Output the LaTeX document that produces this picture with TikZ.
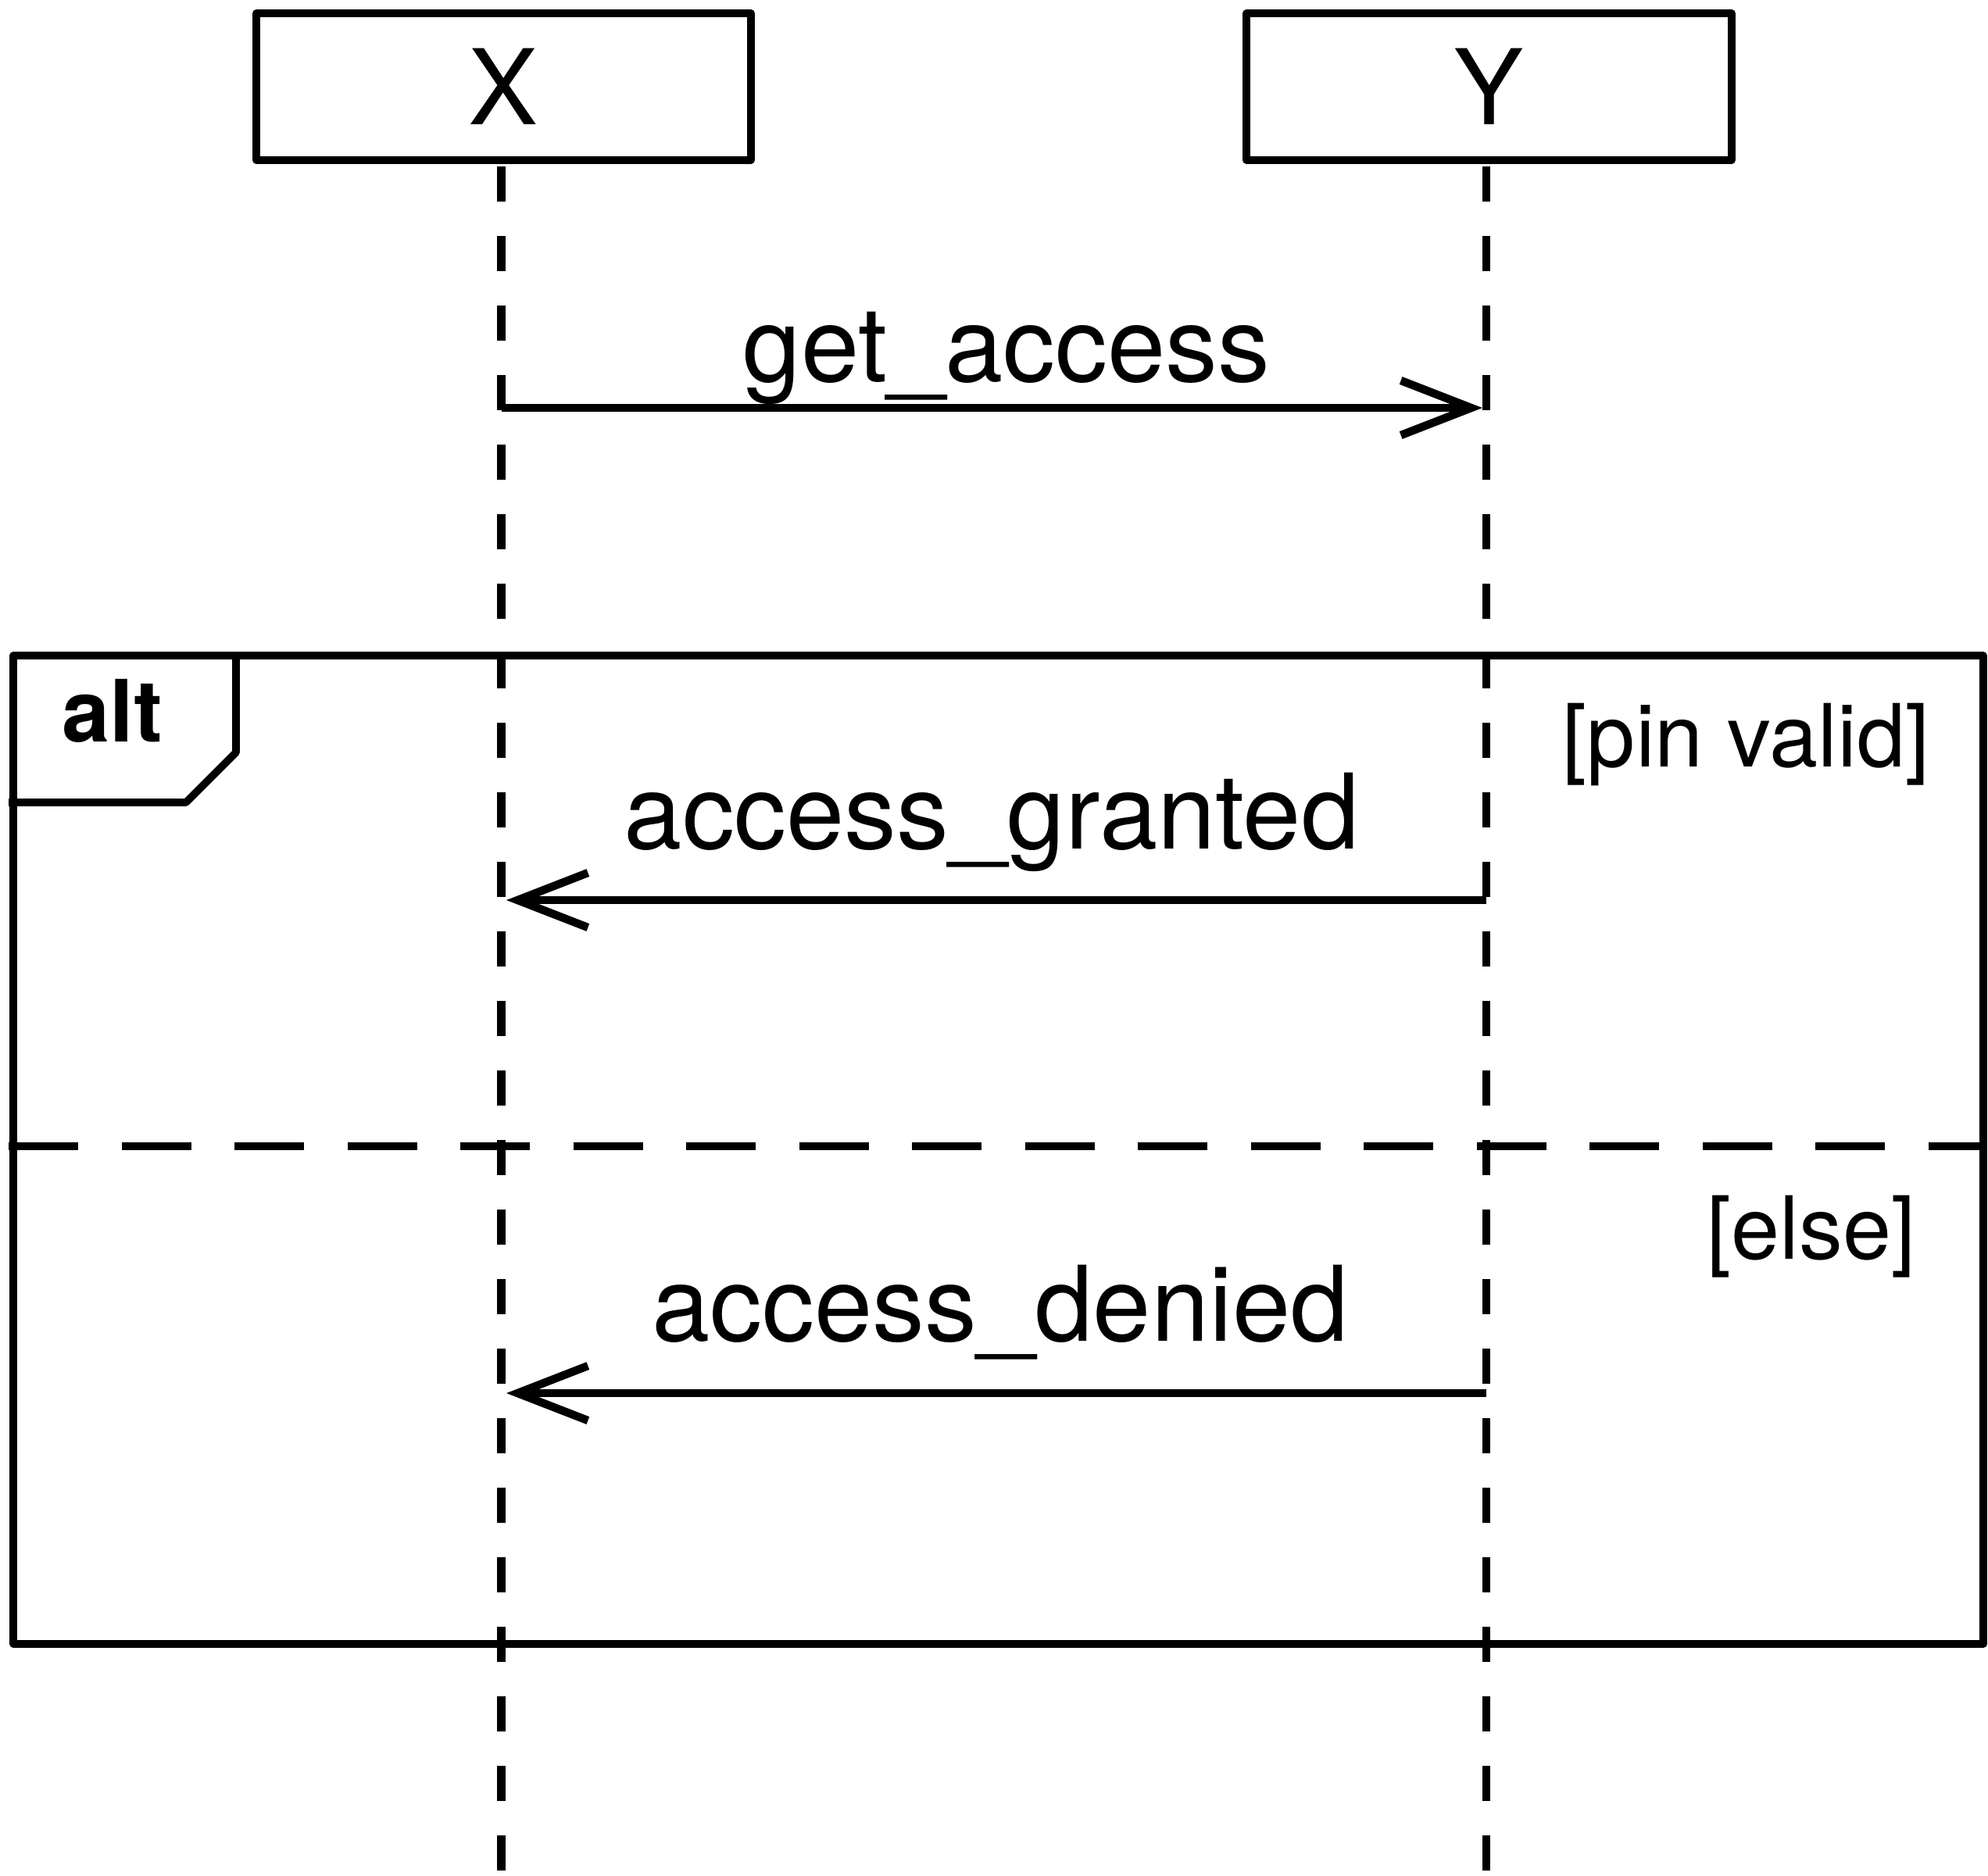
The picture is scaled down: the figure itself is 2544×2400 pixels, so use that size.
\documentclass[tikz,border=0pt]{standalone}
\usepackage{fontspec}
\setmainfont{TeX Gyre Heros}
\usetikzlibrary{arrows.meta}
\tikzset{
  objbox/.style={draw, line width=2.4pt, line join=round, inner sep=0pt,
    minimum height=47pt, font=\fontsize{33.4}{40}\selectfont},
  lifeline/.style={line width=2.6pt, dash pattern=on 11.125pt off 11.125pt},
  msg/.style={line width=2.6pt, -{Straight Barb[length=22.5pt,width=17.5pt,sharp]}},
  msglabel/.style={anchor=base, inner sep=0pt, font=\fontsize{33.4}{40}\selectfont},
  guard/.style={anchor=base, inner sep=0pt, font=\fontsize{27.9}{33}\selectfont},
  framebox/.style={line width=2.4pt, line join=round},
  sepline/.style={line width=2.4pt, dash pattern=on 22.25pt off 13.875pt},
}
\begin{document}
\begin{tikzpicture}[x=0.25pt,y=-0.25pt]
\useasboundingbox (0,0) rectangle (2544,2400);
% objects
\node[objbox, minimum width=158.25pt] (X) at (644.5,111) {X};
\node[objbox, minimum width=155.25pt] (Y) at (1905.5,111) {Y};
% lifelines
\coordinate (Xtop) at (641.5,213);
\coordinate (Xbot) at (641.5,2400);
\coordinate (Ytop) at (1902,213);
\coordinate (Ybot) at (1902,2400);
\draw[lifeline] (Xtop) -- (Xbot);
\draw[lifeline] (Ytop) -- (Ybot);
% alt frame
\draw[framebox] (17,839) rectangle (2538,2104);
\draw[framebox] (302,839) -- (302,963) -- (238,1027) -- (11,1027);
\node[guard, font=\fontsize{27.5}{33}\selectfont\bfseries] (alt) at (143.5,949) {alt};
\draw[sepline] (11,1467) -- (2538,1467);
\node[guard] (g1) at (2234.5,981) {[pin valid]};
\node[guard] (g2) at (2318,1611) {[else]};
% messages
\coordinate (m1a) at (641.5,522);
\coordinate (m1b) at (1897,522);
\draw[msg] (m1a) -- (m1b);
\node[msglabel] (l1) at (1288,488) {get\_access};
\coordinate (m2a) at (1902,1152);
\coordinate (m2b) at (648,1152);
\draw[msg] (m2a) -- (m2b);
\node[msglabel] (l2) at (1269,1086) {access\_granted};
\coordinate (m3a) at (1902,1783);
\coordinate (m3b) at (648,1783);
\draw[msg] (m3a) -- (m3b);
\node[msglabel] (l3) at (1280,1716) {access\_denied};
\end{tikzpicture}
\end{document}
